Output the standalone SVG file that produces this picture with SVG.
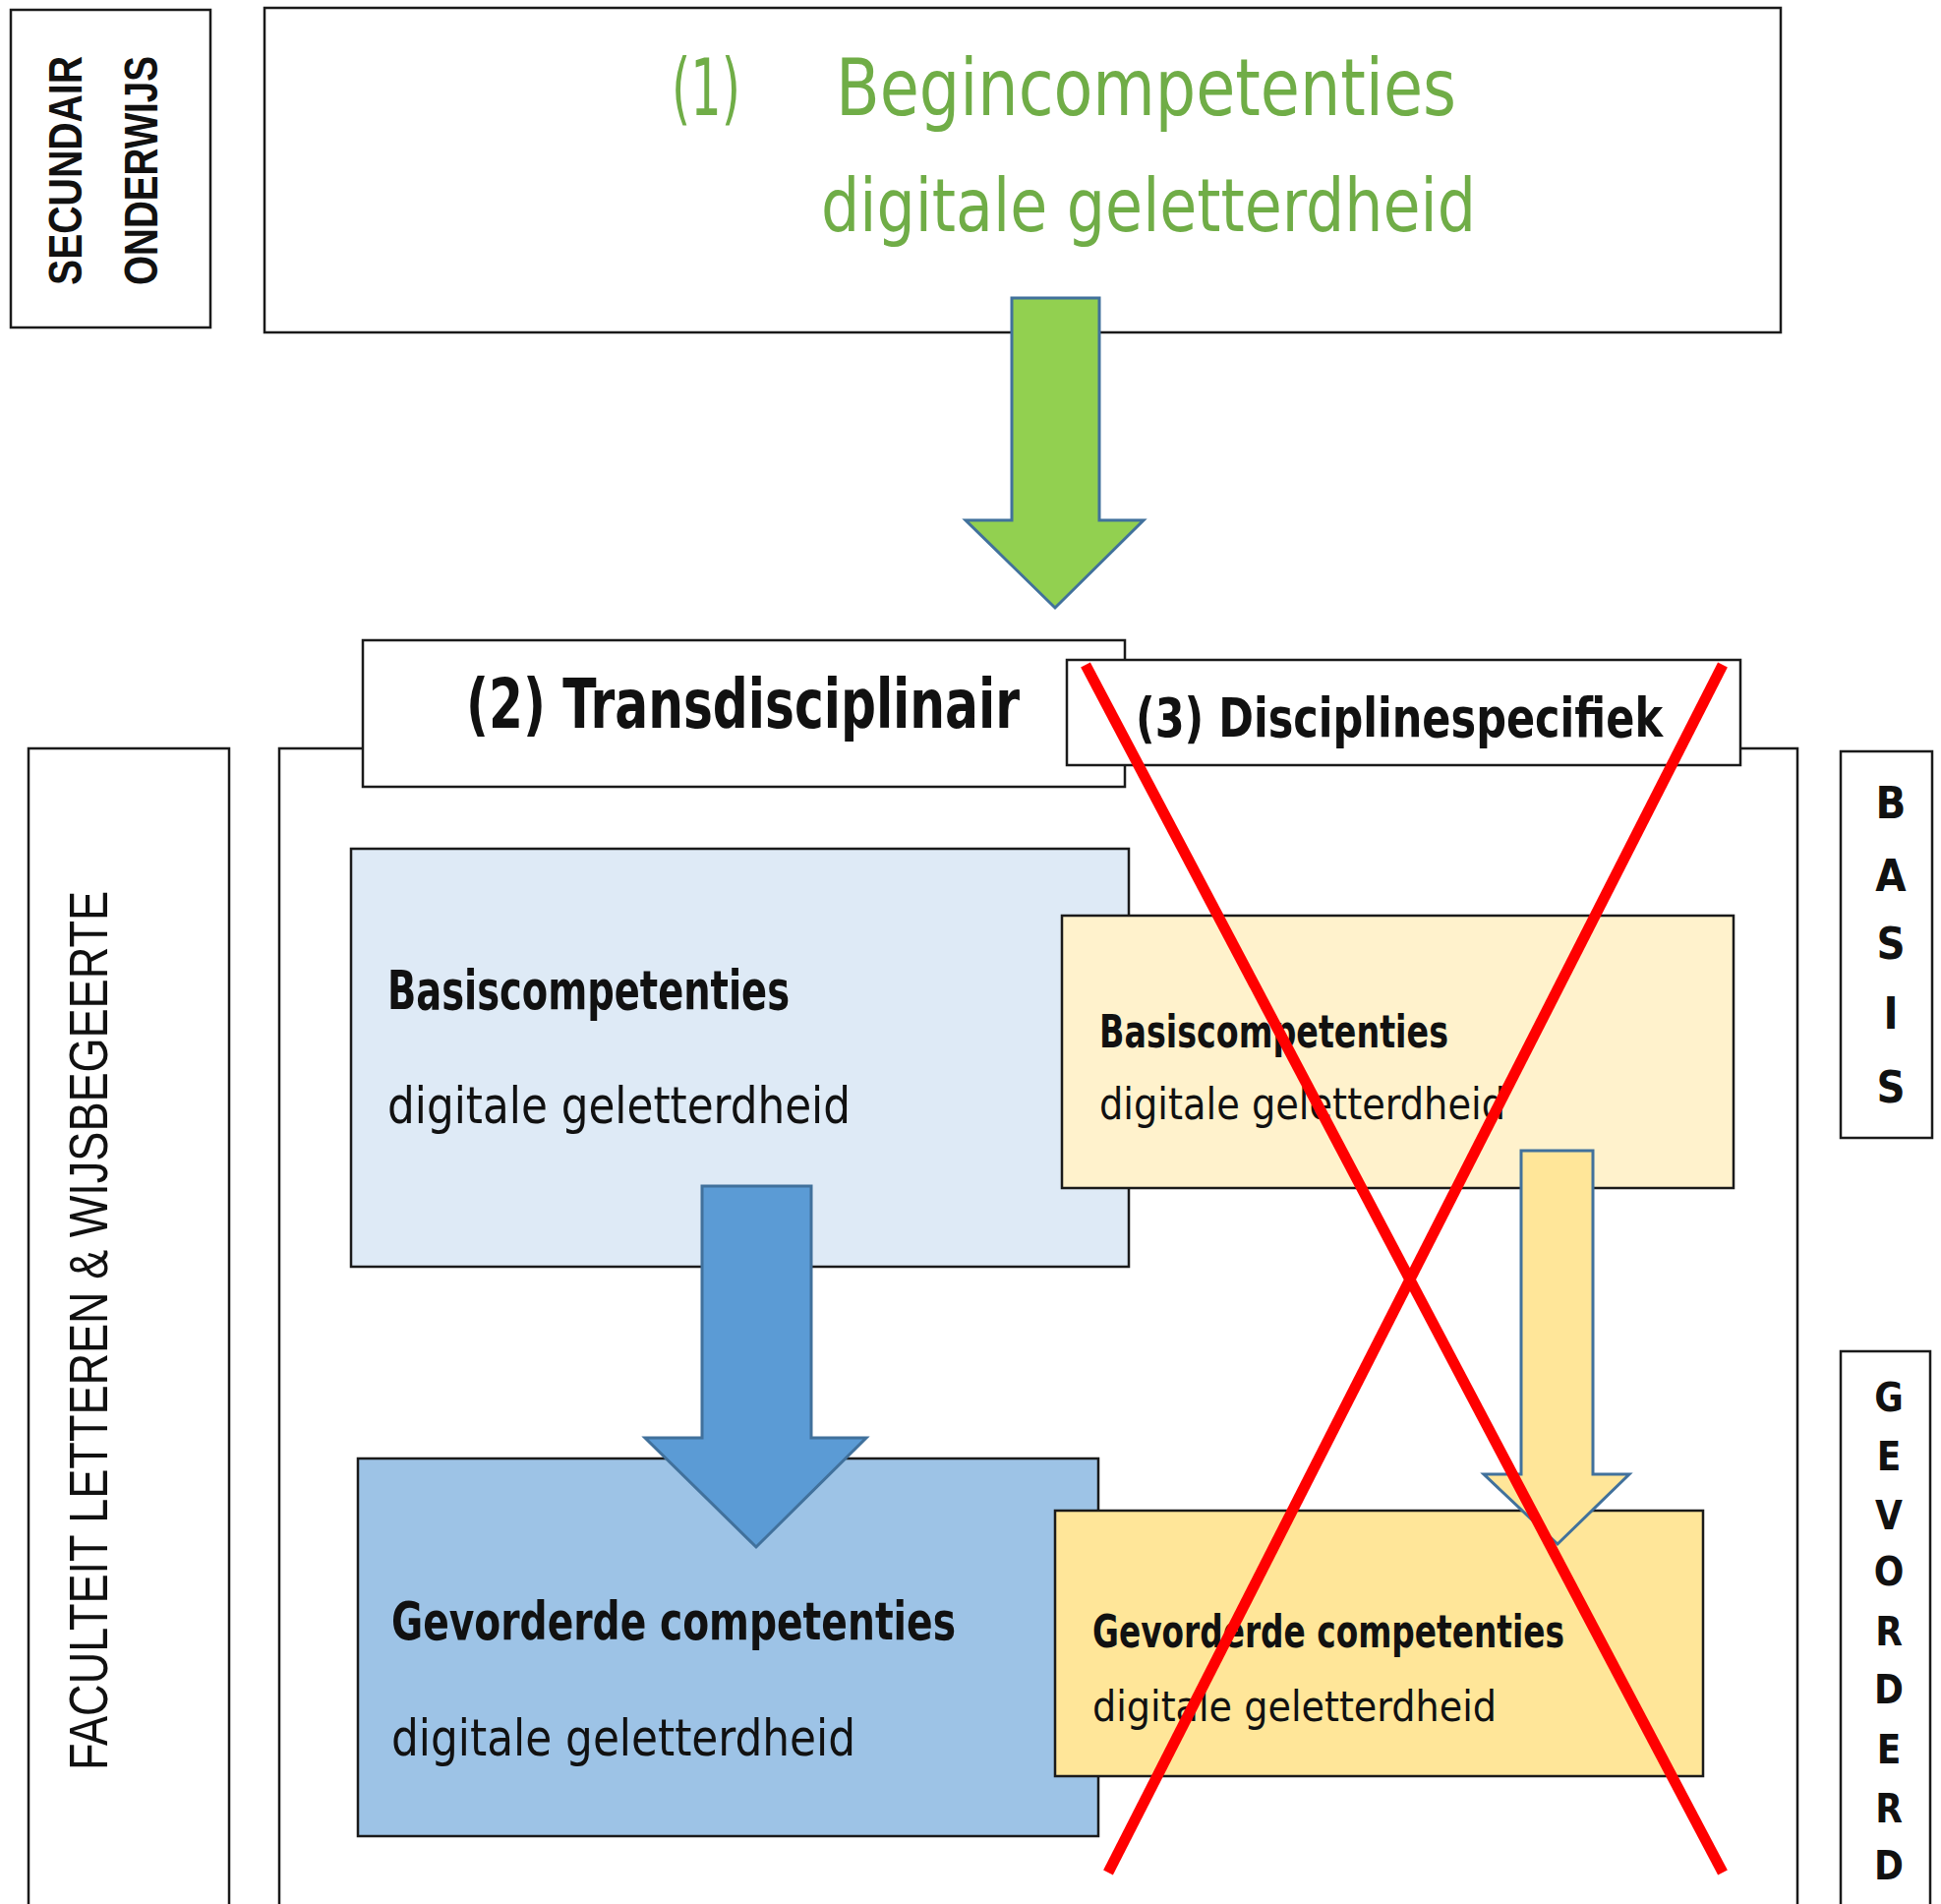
<svg xmlns="http://www.w3.org/2000/svg" width="1974" height="1936" viewBox="0 0 1974 1936">
<style>
.box{stroke:#1a1a1a;stroke-width:2.5}
.w{fill:#ffffff}
.t{font-family:"DejaVu Sans Condensed","DejaVu Sans",sans-serif;fill:#111111}
.b{font-weight:bold}
.g{fill:#70AD47}
.side{font-family:"Liberation Sans",Arial,sans-serif;fill:#111111}
.let{font-family:"DejaVu Sans Condensed","DejaVu Sans",sans-serif;fill:#111111;text-anchor:middle;font-weight:bold}
.arrow{stroke:#41719C;stroke-width:3;stroke-linejoin:miter}
.cross{stroke:#FF0000;stroke-width:11;stroke-linecap:butt}
</style>
<rect width="1974" height="1936" fill="#ffffff"/>

<g id="secundair-onderwijs">
<rect class="box w" x="11" y="10" width="203" height="323"/>
<text class="side b" font-size="48" transform="translate(83,290) rotate(-90)" textLength="233" lengthAdjust="spacingAndGlyphs">SECUNDAIR</text>
<text class="side b" font-size="48" transform="translate(160,290) rotate(-90)" textLength="233" lengthAdjust="spacingAndGlyphs">ONDERWIJS</text>
</g>

<g id="begincompetenties">
<rect class="box w" x="269" y="8" width="1542" height="330"/>
<text class="t g" font-size="81" x="683" y="117" textLength="70" lengthAdjust="spacingAndGlyphs">(1)</text>
<text class="t g" font-size="81" x="850" y="117" textLength="631" lengthAdjust="spacingAndGlyphs">Begincompetenties</text>
<text class="t g" font-size="75" x="835" y="235" textLength="666" lengthAdjust="spacingAndGlyphs">digitale geletterdheid</text>
</g>

<g id="faculteit">
<rect class="box w" x="29" y="761" width="204" height="1200"/>
<text class="side" font-size="56" transform="translate(109,1800) rotate(-90)" textLength="894" lengthAdjust="spacingAndGlyphs">FACULTEIT LETTEREN &amp; WIJSBEGEERTE</text>
</g>

<g id="container">
<rect class="box w" x="284" y="761" width="1544" height="1200"/>
</g>

<g id="transdisciplinair">
<rect class="box w" x="369" y="651" width="775" height="149"/>
<text class="t b" font-size="70" x="474" y="740" textLength="563" lengthAdjust="spacingAndGlyphs">(2) Transdisciplinair</text>
</g>

<g id="disciplinespecifiek">
<rect class="box w" x="1085" y="671" width="685" height="107"/>
<text class="t b" font-size="55" x="1155" y="749" textLength="536" lengthAdjust="spacingAndGlyphs">(3) Disciplinespecifiek</text>
</g>

<g id="basis">
<rect class="box w" x="1872" y="764" width="93" height="393"/>
<text class="let" font-size="45" x="1923" y="832">B</text>
<text class="let" font-size="45" x="1923" y="906">A</text>
<text class="let" font-size="45" x="1923" y="975">S</text>
<text class="let" font-size="45" x="1923" y="1046">I</text>
<text class="let" font-size="45" x="1923" y="1121">S</text>
</g>

<g id="gevorderd">
<rect class="box w" x="1872" y="1374" width="91" height="600"/>
<text class="let" font-size="40" x="1921" y="1435">G</text>
<text class="let" font-size="40" x="1921" y="1495">E</text>
<text class="let" font-size="40" x="1921" y="1555">V</text>
<text class="let" font-size="40" x="1921" y="1612">O</text>
<text class="let" font-size="40" x="1921" y="1673">R</text>
<text class="let" font-size="40" x="1921" y="1732">D</text>
<text class="let" font-size="40" x="1921" y="1793">E</text>
<text class="let" font-size="40" x="1921" y="1853">R</text>
<text class="let" font-size="40" x="1921" y="1911">D</text>
</g>

<g id="basis-trans">
<rect class="box" fill="#DEEAF6" x="357" y="863" width="791" height="425"/>
<text class="t b" font-size="55" x="394" y="1026" textLength="409" lengthAdjust="spacingAndGlyphs">Basiscompetenties</text>
<text class="t" font-size="52" x="394" y="1142" textLength="471" lengthAdjust="spacingAndGlyphs">digitale geletterdheid</text>
</g>

<g id="basis-disc">
<rect class="box" fill="#FFF2CC" x="1080" y="931" width="683" height="277"/>
<text class="t b" font-size="47" x="1118" y="1065" textLength="355" lengthAdjust="spacingAndGlyphs">Basiscompetenties</text>
<text class="t" font-size="45" x="1118" y="1138" textLength="413" lengthAdjust="spacingAndGlyphs">digitale geletterdheid</text>
</g>

<g id="gevorderd-trans">
<rect class="box" fill="#9DC3E6" x="364" y="1483" width="753" height="384"/>
<text class="t b" font-size="53" x="398" y="1667" textLength="574" lengthAdjust="spacingAndGlyphs">Gevorderde  competenties</text>
<text class="t" font-size="51" x="398" y="1785" textLength="472" lengthAdjust="spacingAndGlyphs">digitale geletterdheid</text>
</g>

<g id="gevorderd-disc">
<rect class="box" fill="#FFE699" x="1073" y="1536" width="659" height="270"/>
<text class="t b" font-size="47" x="1111" y="1675" textLength="480" lengthAdjust="spacingAndGlyphs">Gevorderde competenties</text>
<text class="t" font-size="43" x="1111" y="1750" textLength="411" lengthAdjust="spacingAndGlyphs">digitale geletterdheid</text>
</g>

<g id="connectors">
<polygon class="arrow" fill="#92D050" points="1029,303 1118,303 1118,529 1163,529 1073,618 982,529 1029,529"/>
<polygon class="arrow" fill="#5B9BD5" stroke-width="2.5" points="714,1206 825,1206 825,1462 881,1462 769,1573 656,1462 714,1462"/>
<polygon class="arrow" fill="#FFE699" points="1547,1170 1620,1170 1620,1499 1657,1499 1584,1570 1509,1499 1547,1499"/>
</g>

<g id="cross">
<line class="cross" x1="1104" y1="676" x2="1752" y2="1904"/>
<line class="cross" x1="1752" y1="676" x2="1127" y2="1904"/>
</g>
</svg>
